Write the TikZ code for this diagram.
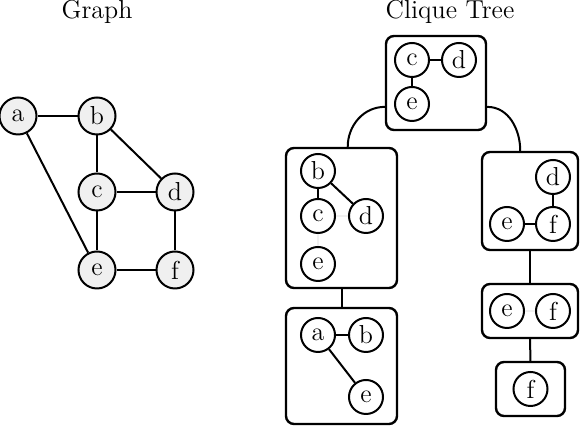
\documentclass[tikz,border=0pt]{standalone}
\usepackage{tikz}
\usetikzlibrary{positioning, calc}
\begin{document}
\begin{tikzpicture}[
  x=0.5pt, y=-0.5pt, line width=1pt,
  lbl/.style={font=\fontsize{13}{15}\selectfont},
  v/.style={draw, circle, fill=gray!12, minimum size=18.5pt, inner sep=0pt, lbl},
  cv/.style={draw, circle, fill=white, minimum size=17pt, inner sep=0pt, lbl},
  clq/.style={draw, rounded corners=4pt, line width=1.2pt, inner sep=0pt},
  faint/.style={gray!12},
]
  \useasboundingbox (0,0) rectangle (580,426);
  \node[lbl] (gtitle) at (97,12) {Graph};
  \node[lbl] (ttitle) at (450,12) {Clique Tree};

  \node[v] (a) at (18,116) {a};
  \node[v] (b) at (97,116) {b};
  \node[v] (c) at (97,192) {c};
  \node[v] (d) at (175,192) {d};
  \node[v] (e) at (97,270) {e};
  \node[v] (f) at (175,270) {f};
  \draw (a) -- (b);
  \draw (a) -- (e);
  \draw (b) -- (c);
  \draw (b) -- (d);
  \draw (c) -- (d);
  \draw (c) -- (e);
  \draw (d) -- (f);
  \draw (e) -- (f);

  \node[clq, minimum width=50pt, minimum height=47pt] (T) at (436,83) {};
  \node[clq, minimum width=55.5pt, minimum height=70pt] (L1) at (341.5,218) {};
  \node[clq, minimum width=55.5pt, minimum height=58pt] (L2) at (341.5,366) {};
  \node[clq, minimum width=48pt, minimum height=49pt] (R1) at (530,201) {};
  \node[clq, minimum width=48pt, minimum height=27pt] (R2) at (530,311) {};
  \node[clq, minimum width=34.5pt, minimum height=27pt] (R3) at (530.5,389) {};

  \draw (T.205) to[out=180, in=90] (L1.85);
  \draw (T.335) to[out=0, in=90] (R1.101);
  \draw (L1) -- (L2);
  \draw (R1) -- (R2);
  \draw (R2) -- (R3);

  \node[cv] (tc) at (412,60) {c};
  \node[cv] (td) at (459,60) {d};
  \node[cv] (te) at (412,104) {e};
  \draw (tc) -- (td);
  \draw (tc) -- (te);

  \node[cv] (l1b) at (318,171) {b};
  \node[cv] (l1c) at (318,216) {c};
  \node[cv] (l1d) at (366,216) {d};
  \node[cv] (l1e) at (318,264) {e};
  \draw (l1b) -- (l1c);
  \draw (l1b) -- (l1d);
  \draw[faint] (l1c) -- (l1d);
  \draw[faint] (l1c) -- (l1e);

  \node[cv] (l2a) at (318,335) {a};
  \node[cv] (l2b) at (366,335) {b};
  \node[cv] (l2e) at (366,397) {e};
  \draw (l2a) -- (l2b);
  \draw (l2a) -- (l2e);

  \node[cv] (r1d) at (553,177) {d};
  \node[cv] (r1e) at (507,224) {e};
  \node[cv] (r1f) at (553,224) {f};
  \draw (r1d) -- (r1f);
  \draw (r1e) -- (r1f);

  \node[cv] (r2e) at (507,311) {e};
  \node[cv] (r2f) at (553,311) {f};
  \draw[faint] (r2e) -- (r2f);

  \node[cv] (r3f) at (530.5,389) {f};
\end{tikzpicture}
\end{document}
